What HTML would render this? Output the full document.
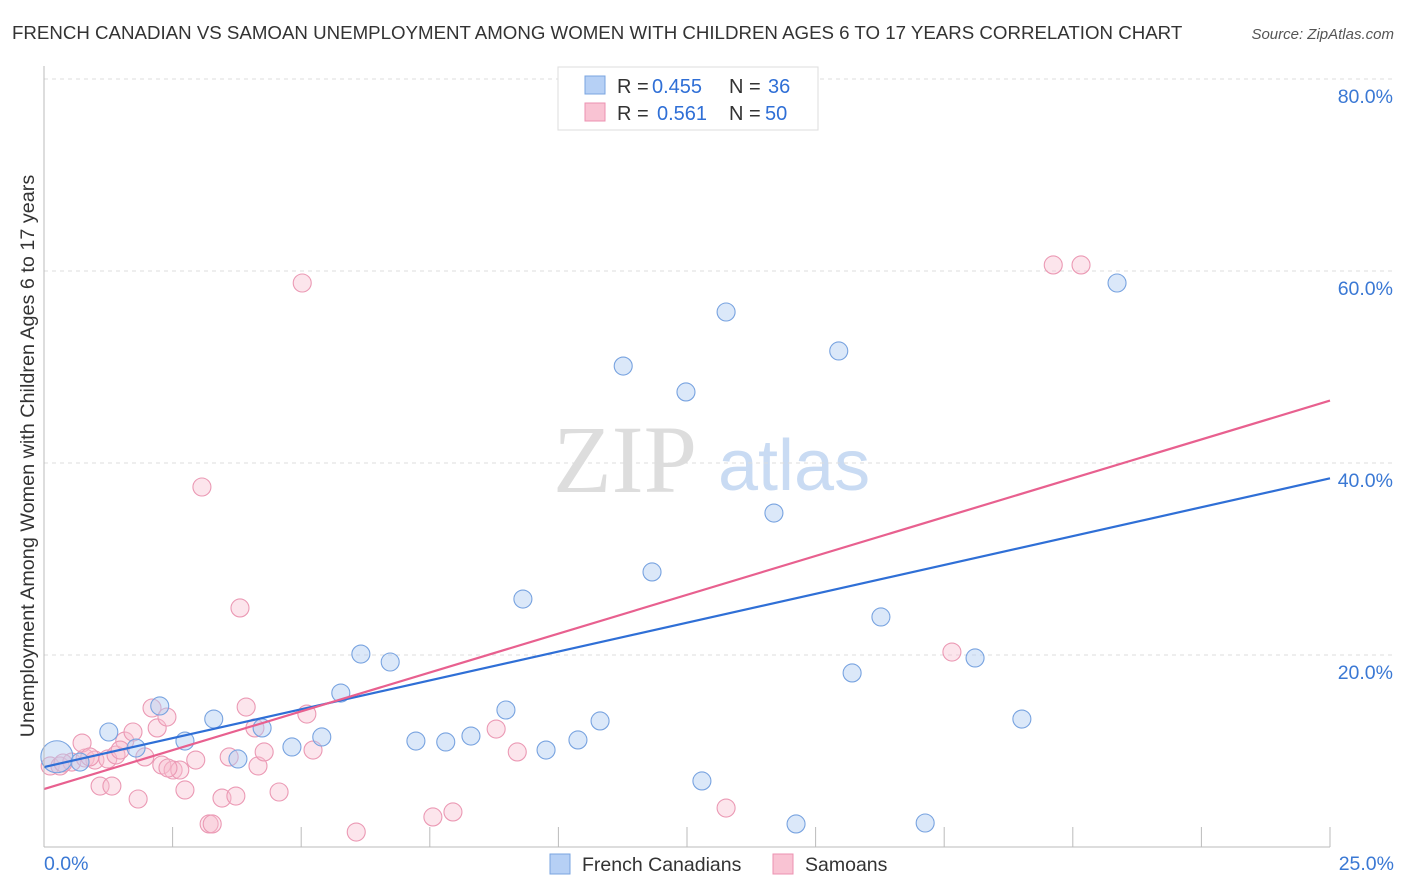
<!DOCTYPE html>
<html><head><meta charset="utf-8"><style>
body{margin:0;background:#fff;font-family:"Liberation Sans",sans-serif}
svg{display:block}
</style></head><body>
<svg id="c" width="1406" height="892" xmlns="http://www.w3.org/2000/svg">
<text x="12" y="39" font-size="18.7" fill="#333">FRENCH CANADIAN VS SAMOAN UNEMPLOYMENT AMONG WOMEN WITH CHILDREN AGES 6 TO 17 YEARS CORRELATION CHART</text>
<text x="1394" y="39" font-size="15" fill="#555" font-style="italic" text-anchor="end">Source: ZipAtlas.com</text>
<g>
<text x="553" y="492" font-size="96" fill="#ddd" font-family="Liberation Serif,serif">ZIP</text>
<text x="718" y="490" font-size="72" fill="#c9dbf3">atlas</text>
</g>
<g id="grid"></g><g id="pts"></g><g id="lines"></g><g id="axes"></g>
<text transform="translate(34,456) rotate(-90)" font-size="19.8" fill="#333" text-anchor="middle">Unemployment Among Women with Children Ages 6 to 17 years</text>
<g>
<rect x="558" y="67" width="260" height="63" fill="#fff" stroke="#ddd"/>
<rect x="585" y="76" width="20" height="18" fill="#b6d0f5" stroke="#7aa4e0"/>
<rect x="585" y="103" width="20" height="18" fill="#f9c3d3" stroke="#ec92b0"/>
<g font-size="20" fill="#333">
<text x="617" y="93">R =</text><text x="652" y="93" fill="#2f6fd6">0.455</text><text x="729" y="93">N =</text><text x="768" y="93" fill="#2f6fd6">36</text>
<text x="617" y="120">R =</text><text x="657" y="120" fill="#2f6fd6">0.561</text><text x="729" y="120">N =</text><text x="765" y="120" fill="#2f6fd6">50</text>
</g>
</g>
<g>
<rect x="550" y="854" width="20" height="20" fill="#b6d0f5" stroke="#7aa4e0"/>
<text x="582" y="871" font-size="19.5" fill="#333">French Canadians</text>
<rect x="773" y="854" width="20" height="20" fill="#f9c3d3" stroke="#ec92b0"/>
<text x="805" y="871" font-size="19.5" fill="#333">Samoans</text>
</g>
</svg>
<script>
const xTicks=[0,2.5,5,7.5,10,12.5,15,17.5,20,22.5,25];
const yTicks=[20,40,60,80];
const blueX=[0.25,0.70,1.26,1.79,2.25,2.74,3.30,3.77,4.24,4.82,5.40,5.77,6.16,6.73,7.23,7.81,8.30,8.98,9.31,9.76,10.38,10.81,11.26,11.82,12.48,12.79,13.26,14.19,14.62,15.45,15.71,16.27,17.13,18.10,19.01,20.86];
const blueY=[9.4,8.85,11.98,10.31,14.69,11.04,13.33,9.17,12.40,10.42,11.46,16.04,20.10,19.27,11.04,10.94,11.56,14.27,25.83,10.10,11.15,13.13,50.10,28.65,47.40,6.88,55.73,34.79,2.40,51.67,18.13,23.96,2.50,19.69,13.33,58.75];
const pinkX=[0.12,0.31,0.54,0.80,0.99,1.24,1.40,0.74,1.09,1.32,1.57,1.73,1.83,1.96,2.10,2.20,2.29,2.39,2.51,2.64,2.74,2.95,3.07,3.21,3.27,3.46,3.60,3.73,3.81,3.93,4.10,4.16,4.28,4.57,5.02,5.11,5.23,6.07,7.56,7.95,8.79,9.20,13.26,17.65,19.62,20.16,0.37,0.89,1.48,2.41];
const pinkY=[8.44,8.44,8.85,9.27,9.06,9.17,9.58,10.83,6.35,6.35,11.04,11.98,5.0,9.38,14.48,12.40,8.54,13.54,8.02,8.02,5.94,9.06,37.5,2.40,2.40,5.10,9.38,5.31,24.90,14.58,12.40,8.44,9.90,5.73,58.75,13.85,10.10,1.56,3.13,3.65,12.29,9.90,4.06,20.31,60.63,60.63,8.75,9.38,10.10,8.23];
const blueLine=[8.33,38.4];
const pinkLine=[6.04,46.5];
const NS="http://www.w3.org/2000/svg";
const X=v=>44+v*(1286/25);
const Y=v=>847-v*9.6;
function mk(tag,attrs,parent){const e=document.createElementNS(NS,tag);for(const k in attrs)e.setAttribute(k,attrs[k]);parent.appendChild(e);return e;}
const grid=document.getElementById('grid'),axes=document.getElementById('axes'),pts=document.getElementById('pts'),lines=document.getElementById('lines');
yTicks.forEach(t=>{
 const l=mk('line',{x1:44,x2:1394,y1:Y(t),y2:Y(t),stroke:'#ddd','stroke-dasharray':'4,4'},grid);
 
 
 const tx=mk('text',{x:1393,y:Y(t)+24,'font-size':19.5,fill:'#3a78d4','text-anchor':'end'},axes);
 tx.textContent=t.toFixed(1)+'%';
 
 
});
const ax=mk('line',{x1:44,x2:1330,y1:847,y2:847,stroke:'#bbb'},axes);


const ay=mk('line',{x1:44,x2:44,y1:66,y2:847,stroke:'#bbb'},axes);


xTicks.forEach((t,i)=>{if(i==0)return;
 const l=mk('line',{x1:X(t),x2:X(t),y1:827,y2:847,stroke:'#bbb'},axes);
 
 
});
[[0,'start',44],[25,'end',1394]].forEach(a=>{
 const tx=mk('text',{x:a[2],y:870,'font-size':19.5,fill:'#3a78d4','text-anchor':a[1]},axes);
 tx.textContent=a[0].toFixed(1)+'%';
 
 
});
pinkX.forEach((v,i)=>{
 const c=mk('circle',{cx:X(v),cy:Y(pinkY[i]),r:9,fill:'rgba(248,190,208,0.4)',stroke:'#eb99b4','stroke-width':1.1},pts);
 
 
});
blueX.forEach((v,i)=>{
 const c=mk('circle',{cx:X(v),cy:Y(blueY[i]),r:i==0?16:9,fill:'rgba(176,205,242,0.45)',stroke:'#78a3e0','stroke-width':1.1},pts);
 
 
});
const bl=mk('line',{x1:X(0),y1:Y(blueLine[0]),x2:X(25),y2:Y(blueLine[1]),stroke:'#2f6fd6','stroke-width':2.2},lines);


const pl=mk('line',{x1:X(0),y1:Y(pinkLine[0]),x2:X(25),y2:Y(pinkLine[1]),stroke:'#e8608f','stroke-width':2.2},lines);


</script>
</body></html>
